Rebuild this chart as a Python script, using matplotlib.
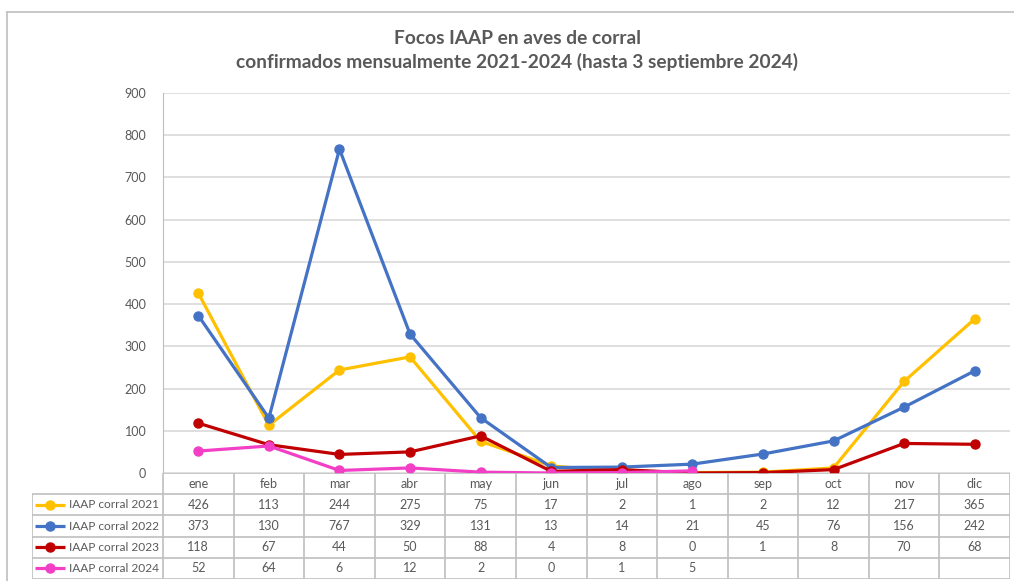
import matplotlib.pyplot as plt
from matplotlib.lines import Line2D
import numpy as np

plt.rcParams['font.family'] = ['Lato', 'DejaVu Sans']

# Data
months = ["ene", "feb", "mar", "abr", "may", "jun", "jul", "ago", "sep", "oct", "nov", "dic"]
labels = ["IAAP corral 2021", "IAAP corral 2022", "IAAP corral 2023", "IAAP corral 2024"]
v2021 = [426, 113, 244, 275, 75, 17, 2, 1, 2, 12, 217, 365]
v2022 = [373, 130, 767, 329, 131, 13, 14, 21, 45, 76, 156, 242]
v2023 = [118, 67, 44, 50, 88, 4, 8, 0, 1, 8, 70, 68]
v2024 = [52, 64, 6, 12, 2, 0, 1, 5]
colors = ["#FFC000", "#4472C4", "#C00000", "#F33FC6"]
series = [v2021, v2022, v2023, v2024]

W, H = 1014, 581
fig = plt.figure(figsize=(W / 100, H / 100), dpi=100)

def fx(px):
    return px / W

def fy(py):
    return 1 - py / H

text_col = "#595959"
grid_col = "#D9D9D9"
tab_col = "#BFBFBF"

# outer chart border
fig.add_artist(Line2D([fx(7), fx(7)], [fy(12), fy(600)], color="#BFBFBF", lw=1.2))
fig.add_artist(Line2D([fx(7), fx(1100)], [fy(12), fy(12)], color="#BFBFBF", lw=1.2))

# title
fig.text(fx(517), fy(38), "Focos IAAP en aves de corral", ha="center", va="center",
         fontsize=13.8, fontweight="bold", color=text_col)
fig.text(fx(517), fy(62), "confirmados mensualmente 2021-2024 (hasta 3 septiembre 2024)",
         ha="center", va="center", fontsize=13.8, fontweight="bold", color=text_col)

# main plot area
left, right, top, zero = 163, 1010, 93, 473
ax = fig.add_axes([fx(left), fy(zero), fx(right) - fx(left), fy(top) - fy(zero)])
x = np.arange(12)
for vals, c in zip(series, colors):
    ax.plot(x[:len(vals)], vals, color=c, lw=2.3, marker="o", ms=6.5, zorder=3)
ax.set_xlim(-0.5, 11.5)
ax.set_ylim(0, 900)
ax.set_yticks(np.arange(0, 901, 100))
ax.set_xticks([])
ax.yaxis.grid(True, color=grid_col, lw=1.2)
ax.set_axisbelow(True)
ax.tick_params(axis="y", length=0, pad=12, labelsize=9, labelcolor=text_col)
for s in ["top", "right", "bottom"]:
    ax.spines[s].set_visible(False)
ax.spines["left"].set_color(tab_col)

# data table below
leg_w = 131
col_w = (right - left) / 12
tab = fig.add_axes([fx(left - leg_w), fy(579), fx(right) - fx(left - leg_w), fy(zero) - fy(579)])
x0 = -0.5 - leg_w / col_w
tab.set_xlim(x0, 11.5)
tab.set_ylim(5, 0)
tab.axis("off")
lk = dict(color=tab_col, lw=1.2, solid_capstyle="butt")
# horizontal lines
tab.plot([-0.5, 11.5], [0, 0], **lk)
for r in range(1, 6):
    tab.plot([x0, 11.5], [r, r], **lk)
# vertical lines
tab.plot([x0, x0], [1, 5], **lk)
for i in range(13):
    tab.plot([i - 0.5, i - 0.5], [0, 5], **lk)
# header
for i, m in enumerate(months):
    tab.text(i, 0.5, m, ha="center", va="center", fontsize=9, color=text_col)
# rows
for r, (lab, vals, c) in enumerate(zip(labels, series, colors)):
    y = r + 1.5
    tab.plot([x0 + 0.04, x0 + 0.47], [y, y], color=c, lw=2.3, solid_capstyle="butt")
    tab.plot([x0 + 0.255], [y], color=c, marker="o", ms=6.5)
    tab.text(x0 + 0.52, y, lab, ha="left", va="center", fontsize=8.6, color=text_col)
    for i, v in enumerate(vals):
        tab.text(i, y, str(v), ha="center", va="center", fontsize=9, color=text_col)

fig.savefig("out.png", dpi=100)
